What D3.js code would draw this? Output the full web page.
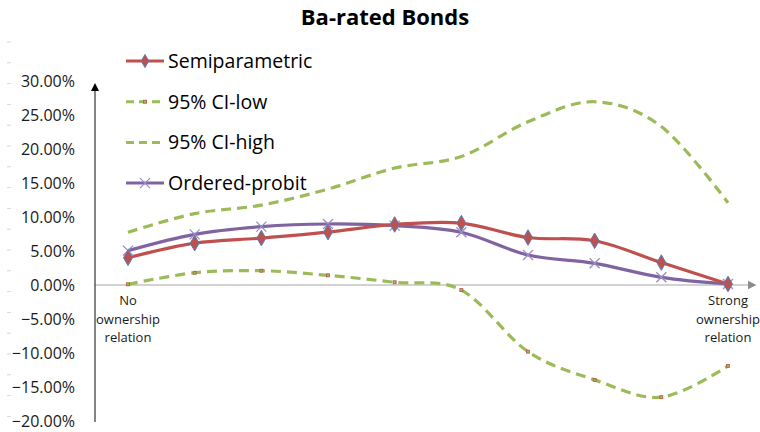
<!DOCTYPE html>
<html>
<head>
<meta charset="utf-8">
<script src="https://cdn.jsdelivr.net/npm/d3@7"></script>
<style>
  html, body { margin: 0; padding: 0; background: #fff; }
  svg { display: block; font-family: "Open Sans", "Noto Sans", sans-serif; }
</style>
</head>
<body>
<svg id="chart" width="760" height="432"></svg>
<script>
// Ownership-relation positions (only the two ends carry a label)
const categories = [
  "No\nownership\nrelation", "", "", "", "", "", "", "", "",
  "Strong\nownership\nrelation"
];

// Probability estimates per position
const semiparametric = [0.040, 0.0615, 0.069, 0.0778, 0.089, 0.091, 0.0698, 0.065, 0.033, 0.0015];
const ciLow          = [0.001, 0.018, 0.021, 0.0142, 0.0040, -0.0075, -0.098, -0.1395, -0.165, -0.119];
const ciHigh         = [0.0775, 0.105, 0.1175, 0.141, 0.172, 0.189, 0.240, 0.2695, 0.233, 0.121];
const orderedProbit  = [0.0505, 0.0745, 0.0858, 0.0897, 0.0873, 0.0775, 0.0441, 0.0319, 0.0113, 0.0015];

const yTicks = [0.30, 0.25, 0.20, 0.15, 0.10, 0.05, 0.00, -0.05, -0.10, -0.15, -0.20];

const colors = { red: "#C0504D", green: "#9BBB59", purple: "#8064A2", blue: "#4F81BD" };

const svg = d3.select("#chart");

const x = d3.scalePoint().domain(d3.range(categories.length)).range([128, 728]);
const y = d3.scaleLinear().domain([-0.20, 0.30]).range([421, 81]);

// Title
svg.append("text")
  .attr("x", 385).attr("y", 25)
  .attr("text-anchor", "middle")
  .attr("font-size", 22).attr("font-weight", "bold")
  .attr("fill", "#000")
  .text("Ba-rated Bonds");

// Faint minor marks along the left margin
svg.append("g").selectAll("line")
  .data(d3.range(19))
  .join("line")
  .attr("x1", 7).attr("x2", 11)
  .attr("y1", i => 42 + i * 20.8).attr("y2", i => 42 + i * 20.8)
  .attr("stroke", "#d9d9d9").attr("stroke-width", 1);

// Y axis: labels only, with the arrowed vertical line drawn separately
const yAxis = d3.axisLeft(y)
  .tickValues(yTicks)
  .tickFormat(d3.format(".2%"))
  .tickSize(0)
  .tickPadding(0);
const yg = svg.append("g").attr("transform", "translate(75,0)").call(yAxis);
yg.select(".domain").remove();
yg.selectAll("text").attr("font-size", 16).attr("fill", "#1a1a1a")
  .attr("font-family", "'Open Sans', 'Noto Sans', sans-serif");

// Arrow heads
const defs = svg.append("defs");
defs.append("marker").attr("id", "arrowBlack")
  .attr("viewBox", "0 0 10 10").attr("refX", 5).attr("refY", 5)
  .attr("markerWidth", 8).attr("markerHeight", 9).attr("orient", "auto")
  .attr("markerUnits", "userSpaceOnUse")
  .append("path").attr("d", "M0,0 L10,5 L0,10 Z").attr("fill", "#000");
defs.append("marker").attr("id", "arrowGray")
  .attr("viewBox", "0 0 10 10").attr("refX", 5).attr("refY", 5)
  .attr("markerWidth", 9).attr("markerHeight", 9).attr("orient", "auto")
  .attr("markerUnits", "userSpaceOnUse")
  .append("path").attr("d", "M0,0 L10,5 L0,10 Z").attr("fill", "#8c8c8c");

// Horizontal zero line with arrow
svg.append("line")
  .attr("x1", 95).attr("x2", 752)
  .attr("y1", y(0)).attr("y2", y(0))
  .attr("stroke", "#a6a6a6").attr("stroke-width", 1.2)
  .attr("marker-end", "url(#arrowGray)");

// Vertical axis with arrow
svg.append("line")
  .attr("x1", 95).attr("x2", 95)
  .attr("y1", 422).attr("y2", 87)
  .attr("stroke", "#333").attr("stroke-width", 1.2)
  .attr("marker-end", "url(#arrowBlack)");

// Category labels below the zero line
const xg = svg.append("g");
categories.forEach((c, i) => {
  if (!c) return;
  const t = xg.append("text")
    .attr("x", x(i)).attr("y", y(0) + 20)
    .attr("text-anchor", "middle")
    .attr("font-size", 13).attr("fill", "#1a1a1a");
  c.split("\n").forEach((line, k) => {
    t.append("tspan").attr("x", x(i)).attr("dy", k === 0 ? 0 : 18.5).text(line);
  });
});

const line = d3.line()
  .x((d, i) => x(i))
  .y(d => y(d))
  .curve(d3.curveCardinal.tension(0));

// Confidence bands (dashed)
[ciHigh, ciLow].forEach(series => {
  svg.append("path")
    .datum(series)
    .attr("d", line)
    .attr("fill", "none")
    .attr("stroke", colors.green).attr("stroke-width", 3.2)
    .attr("stroke-dasharray", "10,6");
});

// Small markers on the lower band
svg.append("g").selectAll("rect")
  .data(ciLow)
  .join("rect")
  .attr("x", (d, i) => x(i) - 1.5).attr("y", d => y(d) - 1.5)
  .attr("width", 3).attr("height", 3)
  .attr("fill", colors.green).attr("stroke", colors.red).attr("stroke-width", 0.8);

// Ordered-probit line
svg.append("path")
  .datum(orderedProbit)
  .attr("d", line)
  .attr("fill", "none")
  .attr("stroke", colors.purple).attr("stroke-width", 3.2);

// Semiparametric line
svg.append("path")
  .datum(semiparametric)
  .attr("d", line)
  .attr("fill", "none")
  .attr("stroke", colors.red).attr("stroke-width", 3.2);

// Ordered-probit cross markers
const cross = (g, cx, cy, r) => {
  g.append("path")
    .attr("d", `M${cx - r},${cy - r}L${cx + r},${cy + r}M${cx - r},${cy + r}L${cx + r},${cy - r}`)
    .attr("stroke", "#9d8bc4").attr("stroke-width", 1.3).attr("fill", "none");
};
const crossG = svg.append("g");
orderedProbit.forEach((d, i) => cross(crossG, x(i), y(d), 5));

// Semiparametric diamond markers
const diamond = d3.symbol().type(d3.symbolDiamond).size(70);
svg.append("g").selectAll("path")
  .data(semiparametric)
  .join("path")
  .attr("transform", (d, i) => `translate(${x(i)},${y(d)})`)
  .attr("d", diamond)
  .attr("fill", colors.red).attr("stroke", colors.blue).attr("stroke-width", 1);

// Legend
const legendItems = [
  { label: "Semiparametric", color: colors.red, dash: null, marker: "diamond" },
  { label: "95% CI-low", color: colors.green, dash: "8,5", marker: "square" },
  { label: "95% CI-high", color: colors.green, dash: "8,5", marker: null },
  { label: "Ordered-probit", color: colors.purple, dash: null, marker: "cross" }
];
const lg = svg.append("g");
legendItems.forEach((it, k) => {
  const cy = 61 + k * 40.7;
  lg.append("line")
    .attr("x1", 126).attr("x2", 164).attr("y1", cy).attr("y2", cy)
    .attr("stroke", it.color).attr("stroke-width", 3)
    .attr("stroke-dasharray", it.dash);
  if (it.marker === "diamond") {
    lg.append("path").attr("transform", `translate(145,${cy})`)
      .attr("d", d3.symbol().type(d3.symbolDiamond).size(50))
      .attr("fill", colors.red).attr("stroke", colors.blue).attr("stroke-width", 1);
  } else if (it.marker === "square") {
    lg.append("rect").attr("x", 143.5).attr("y", cy - 1.5).attr("width", 3).attr("height", 3)
      .attr("fill", colors.green).attr("stroke", colors.red).attr("stroke-width", 0.8);
  } else if (it.marker === "cross") {
    cross(lg, 145, cy, 5);
  }
  lg.append("text")
    .attr("x", 168).attr("y", cy)
    .attr("dy", "0.35em")
    .attr("font-size", 19.5).attr("fill", "#000")
    .text(it.label);
});
</script>
</body>
</html>
